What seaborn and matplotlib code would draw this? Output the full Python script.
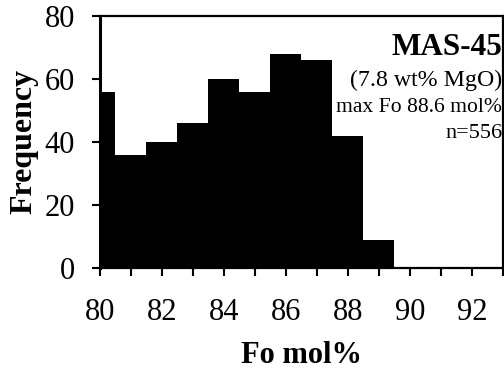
import matplotlib
matplotlib.use("Agg")
import matplotlib.pyplot as plt
import seaborn as sns
import numpy as np

# Data
bin_edges = [79.5, 80.5, 81.5, 82.5, 83.5, 84.5, 85.5, 86.5, 87.5, 88.5, 89.5, 90.5, 91.5, 92.5]
counts = [56, 36, 40, 46, 60, 56, 68, 66, 42, 9, 0, 0, 0]
bin_centers = [80, 81, 82, 83, 84, 85, 86, 87, 88, 89, 90, 91, 92]
x_ticks = [80, 82, 84, 86, 88, 90, 92]
y_ticks = [0, 20, 40, 60, 80]
annot_title = "MAS-45"
annot_lines = ["(7.8 wt% MgO)", "max Fo 88.6 mol%", "n=556"]

sns.set_style("ticks")
plt.rcParams['font.family'] = ['Liberation Serif', 'DejaVu Serif']
plt.rcParams['text.color'] = 'black'
plt.rcParams['axes.labelcolor'] = 'black'
plt.rcParams['xtick.color'] = 'black'
plt.rcParams['ytick.color'] = 'black'

fig = plt.figure(figsize=(5.04, 3.71), dpi=100)
ax = fig.add_axes([0.198, 0.278, 0.800, 0.679])

sns.histplot(x=bin_centers, weights=counts, bins=bin_edges, color="black",
             alpha=1, linewidth=0, ax=ax)

ax.set_xlim(80, 93)
ax.set_ylim(0, 80)
ax.set_xticks(range(80, 94), minor=False)
ax.set_xticklabels([str(t) if t in x_ticks else "" for t in range(80, 94)])
ax.set_yticks(y_ticks)
ax.tick_params(axis='both', direction='out', length=5.5, width=1.5, labelsize=22,
               color='black', labelcolor='black')
ax.tick_params(axis='y', pad=12.5)
ax.tick_params(axis='x', pad=16)
for side in ['top', 'right', 'bottom', 'left']:
    ax.spines[side].set_visible(True)
    ax.spines[side].set_color('black')
    ax.spines[side].set_linewidth(1.6)
ax.spines['left'].set_linewidth(2.2)

ax.set_xlabel("Fo mol%", fontsize=22, fontweight='bold', labelpad=10.5, color='black')
ax.set_ylabel("Frequency", fontsize=23, fontweight='bold', labelpad=4, color='black')

ax.text(0.998, 67.6, annot_title, transform=ax.get_yaxis_transform(), ha='right',
        va='baseline', fontsize=22.5, fontweight='bold', color='black')
sizes = [17.2, 15.6, 16]
ys = [57.8, 49.5, 41.3]
for line, s, y in zip(annot_lines, sizes, ys):
    ax.text(0.998, y, line, transform=ax.get_yaxis_transform(), ha='right',
            va='baseline', fontsize=s, color='black')

fig.savefig("out.png", dpi=100)
